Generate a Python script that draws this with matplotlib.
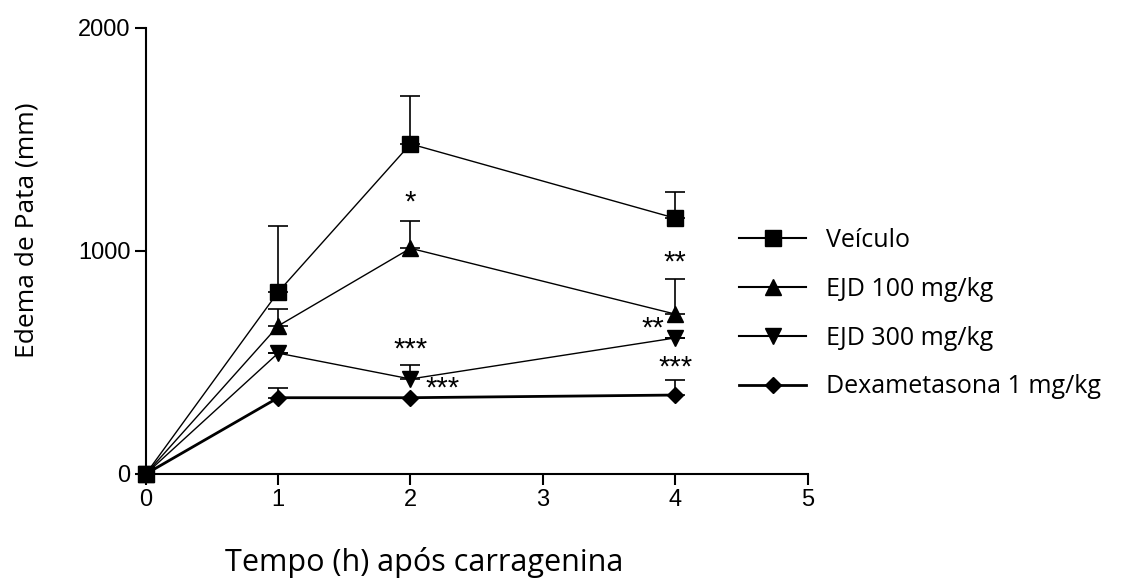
import numpy as np
import matplotlib.pyplot as plt
from matplotlib.lines import Line2D

plt.rcParams['font.family'] = ['Liberation Sans', 'DejaVu Sans']

tempo = [0, 1, 2, 4]
veiculo = [0, 816, 1480, 1147]
veiculo_err = [0, 297, 215, 116]
ejd100 = [0, 664, 1012, 717]
ejd100_err = [0, 76, 123, 157]
ejd300 = [0, 542, 426, 610]
ejd300_err = [0, 0, 63, 0]
dexa = [0, 342, 342, 354]
dexa_err = [0, 45, 0, 67]

nomes = ['Veículo', 'EJD 100 mg/kg', 'EJD 300 mg/kg', 'Dexametasona 1 mg/kg']

# significancia: (x, y, texto)
sig_x = [2, 2, 2.24, 4, 3.83, 4]
sig_y = [1215, 560, 381, 950, 650, 475]
sig_txt = ['*', '***', '***', '**', '**', '***']

fig = plt.figure(figsize=(11.39, 5.83), dpi=100)
ax = fig.add_axes([0.128, 0.187, 0.581, 0.765])

series = [(veiculo, veiculo_err, 's', 11, 1.0),
          (ejd100, ejd100_err, '^', 11, 1.0),
          (ejd300, ejd300_err, 'v', 11, 1.0),
          (dexa, dexa_err, 'D', 8, 2.0)]

handles = []
for (y, e, m, ms, lw), nome in zip(series, nomes):
    ax.errorbar(tempo, y, yerr=[np.zeros(len(e)), e], fmt='-', marker=m, color='black',
                ms=ms, lw=lw, elinewidth=1.2, capsize=7, capthick=1.2,
                clip_on=False, zorder=3)
    handles.append(Line2D([], [], color='black', marker=m, ms=ms, lw=max(lw, 1.5), label=nome))

for x, y, t in zip(sig_x, sig_y, sig_txt):
    ax.text(x, y, t, ha='center', va='center', fontsize=21)

ax.set_xlim(0, 5)
ax.set_ylim(0, 2000)
ax.set_xticks([0, 1, 2, 3, 4, 5])
ax.set_yticks([0, 1000, 2000])
ax.spines['top'].set_visible(False)
ax.spines['right'].set_visible(False)
for s in ['left', 'bottom']:
    ax.spines[s].set_linewidth(1.5)
ax.tick_params(direction='out', length=8, width=1.5, labelsize=17, pad=3)

ax.set_ylabel('Edema de Pata (mm)', family=['Open Sans', 'DejaVu Sans'], fontsize=19)
ax.yaxis.set_label_coords(-0.16, 0.547)
ax.set_xlabel('Tempo (h) após carragenina', family=['Open Sans', 'DejaVu Sans'], fontsize=22)
ax.xaxis.set_label_coords(0.42, -0.163)

ax.legend(handles=handles, loc='center left', bbox_to_anchor=(0.897, 0.359), frameon=False,
          prop={'family': ['Open Sans', 'DejaVu Sans'], 'size': 18},
          borderaxespad=0, borderpad=0,
          handlelength=2.65, labelspacing=0.95, handletextpad=0.8)

fig.savefig('out.png', dpi=100)
